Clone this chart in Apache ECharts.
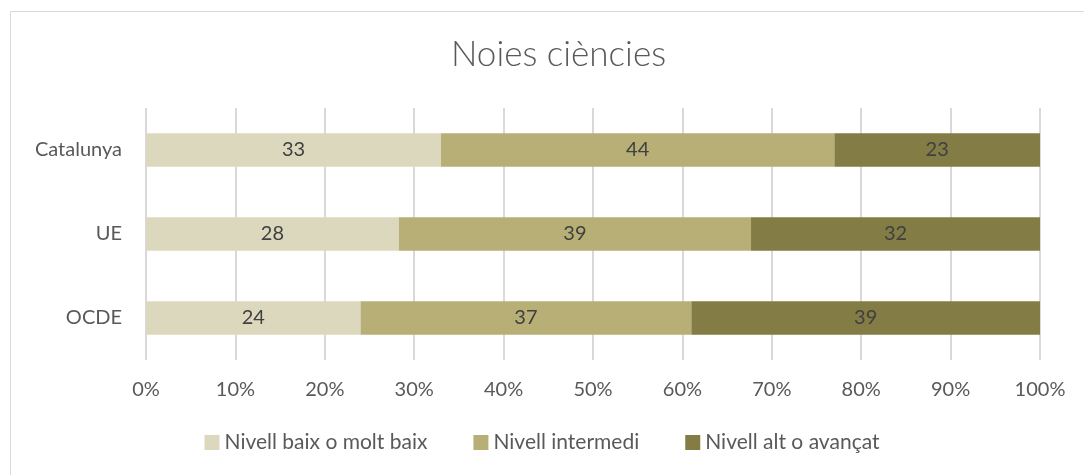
<!DOCTYPE html>
<html>
<head>
<meta charset="utf-8">
<script src="https://cdn.jsdelivr.net/npm/echarts@6/dist/echarts.min.js"></script>
<style>
  html, body { margin: 0; padding: 0; background: #fff; }
  #chart { width: 1084px; height: 475px; }
</style>
</head>
<body>
<div id="chart"></div>
<script>
  // dades
  var categories = ['OCDE', 'UE', 'Catalunya'];
  var nivellBaix = [24, 28, 33];
  var nivellIntermedi = [37, 39, 44];
  var nivellAlt = [39, 32, 23];
  var xTicks = ['0%', '10%', '20%', '30%', '40%', '50%', '60%', '70%', '80%', '90%', '100%'];

  var colors = ['#DCD8BD', '#B8AF77', '#837C45'];
  var fontFam = 'Lato, "Open Sans", sans-serif';

  // 100% apilat: cada barra es normalitza al total de la fila
  var totals = categories.map(function (c, i) {
    return nivellBaix[i] + nivellIntermedi[i] + nivellAlt[i];
  });
  function pct(arr) {
    return arr.map(function (v, i) {
      return { value: v / totals[i] * 100, raw: v };
    });
  }

  function serie(name, arr, color) {
    return {
      name: name,
      type: 'bar',
      stack: 'total',
      barWidth: '40%',
      data: pct(arr),
      itemStyle: { color: color },
      label: {
        show: true,
        position: 'inside',
        color: '#404040',
        fontSize: 20,
        fontFamily: fontFam,
        formatter: function (p) { return p.data.raw; }
      }
    };
  }

  var chart = echarts.init(document.getElementById('chart'));
  var option = {
    animation: false,
    title: {
      text: 'Noies ciències',
      left: 446,
      top: 32,
      textStyle: {
        color: '#595959',
        fontSize: 35,
        fontWeight: 300,
        fontFamily: fontFam
      }
    },
    graphic: [{
      type: 'rect',
      left: 8,
      top: 9,
      shape: { width: 1100, height: 500 },
      style: { fill: 'none', stroke: '#D9D9D9', lineWidth: 1 },
      silent: true
    }],
    legend: {
      bottom: 17,
      left: 'center',
      itemWidth: 15,
      itemHeight: 15,
      itemGap: 46,
      icon: 'rect',
      textStyle: { color: '#595959', fontSize: 21, fontFamily: fontFam },
      data: ['Nivell baix o molt baix', 'Nivell intermedi', 'Nivell alt o avançat']
    },
    grid: {
      left: 146,
      right: 44,
      top: 108,
      bottom: 115
    },
    xAxis: {
      type: 'value',
      min: 0,
      max: 100,
      interval: 10,
      axisLine: { show: false },
      axisTick: { show: false },
      splitLine: { lineStyle: { color: '#D9D9D9', width: 2 } },
      axisLabel: {
        color: '#595959',
        fontSize: 20,
        fontFamily: fontFam,
        margin: 20,
        formatter: function (v) { return xTicks[Math.round(v / 10)]; }
      }
    },
    yAxis: {
      type: 'category',
      data: categories,
      axisLine: { show: false },
      axisTick: { show: false },
      axisLabel: {
        color: '#595959',
        fontSize: 20,
        fontFamily: fontFam,
        margin: 24
      }
    },
    series: [
      serie('Nivell baix o molt baix', nivellBaix, colors[0]),
      serie('Nivell intermedi', nivellIntermedi, colors[1]),
      serie('Nivell alt o avançat', nivellAlt, colors[2])
    ]
  };
  chart.setOption(option);
</script>
</body>
</html>
